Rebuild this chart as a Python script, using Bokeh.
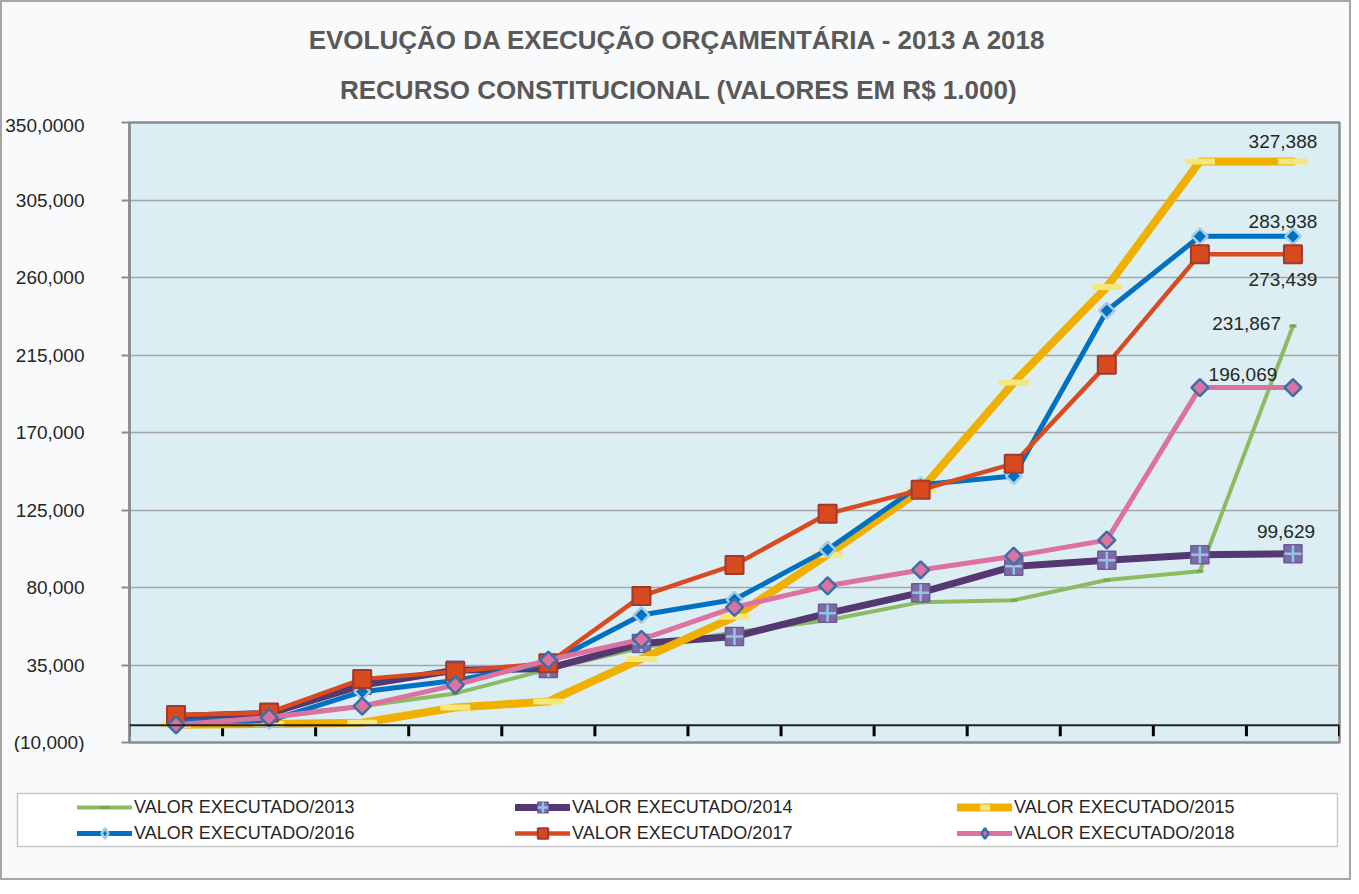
import math
from bokeh.plotting import figure
from bokeh.layouts import column
from bokeh.models import Range1d, FixedTicker, Span, Label, Legend, LegendItem
from bokeh.embed import file_html
from bokeh.resources import INLINE

# ---------------- data ----------------
pontos = list(range(1, 14))  # 13 unlabeled periods

valores_2013 = [3000, 5500, 11000, 18500, 32500, 45000, 54000, 61000, 71500, 72600, 84400, 89400, 231867]
valores_2014 = [5100, 6900, 23300, 32000, 33000, 47500, 51500, 65000, 77000, 92300, 95800, 99000, 99629]
valores_2015 = [300, 800, 1500, 10300, 13800, 38500, 63000, 99000, 136500, 199000, 254500, 327388, 327388]
valores_2016 = [2500, 2500, 19500, 26000, 36000, 64000, 73000, 102000, 139600, 144700, 240700, 283938, 283938]
valores_2017 = [5900, 7400, 26800, 31300, 36000, 75000, 93100, 122800, 136700, 151900, 209400, 273439, 273439]
valores_2018 = [300, 4500, 11100, 23300, 37900, 49900, 68500, 81000, 90200, 98200, 107500, 196069, 196069]

series_nomes = ["VALOR EXECUTADO/2013", "VALOR EXECUTADO/2014", "VALOR EXECUTADO/2015",
                "VALOR EXECUTADO/2016", "VALOR EXECUTADO/2017", "VALOR EXECUTADO/2018"]

y_ticks = [-10000, 35000, 80000, 125000, 170000, 215000, 260000, 305000, 350000]
y_tick_labels = ["(10,000)", "35,000", "80,000", "125,000", "170,000", "215,000",
                 "260,000", "305,000", "350,0000"]

titulo_1 = "EVOLUÇÃO DA EXECUÇÃO ORÇAMENTÁRIA - 2013 A 2018"
titulo_2 = "RECURSO CONSTITUCIONAL (VALORES EM R$ 1.000)"

# ---------------- styles ----------------
FONT = "Liberation Sans"
BG = "#f9fafc"
W = 1347
H_TITLE, H_MAIN, H_LEG = 112, 638, 126


def no_align(fig):
    if hasattr(fig, "frame_align"):
        fig.frame_align = False


def draw_series(fig, for_legend=False):
    """Draws the six series on fig; returns renderer groups in series order."""
    if for_legend:
        dia = dict(marker="diamond", size=14)
    else:
        dia = dict(marker="square", size=11, angle=math.pi / 4)
    dia2 = dict(dia)
    if not for_legend:
        dia2["size"] = 12
    grupos = []
    # 2013
    a = fig.line(pontos, valores_2013, line_color="#8dbb62", line_width=4, line_join="round", line_cap="round")
    b = fig.scatter(pontos, valores_2013, marker="dash", size=7, line_color="#79a850", line_width=3)
    grupos.append([a, b])
    # 2014
    a = fig.line(pontos, valores_2014, line_color="#553772", line_width=7, line_join="round", line_cap="round")
    b = fig.scatter(pontos, valores_2014, marker="square", size=18, fill_color="#7e6ba6",
                    line_color="#6c5a96", line_width=1.5)
    c = fig.scatter(pontos, valores_2014, marker="cross", size=17, line_color="#93c3e6", line_width=2.5)
    grupos.append([a, b, c])
    # 2015
    a = fig.line(pontos, valores_2015, line_color="#f0b000", line_width=8, line_join="round", line_cap="round")
    b = fig.scatter(pontos, valores_2015, marker="dash", size=30, line_color="#f3e77e", line_width=6)
    grupos.append([a, b])
    # 2016
    a = fig.line(pontos, valores_2016, line_color="#0070c0", line_width=5, line_join="round", line_cap="round")
    b = fig.scatter(pontos, valores_2016, fill_color="#0070c0", line_color="#a8cbe4", line_width=2.5, **dia)
    grupos.append([a, b])
    # 2017
    a = fig.line(pontos, valores_2017, line_color="#d84a1f", line_width=4.5, line_join="round", line_cap="round")
    b = fig.scatter(pontos, valores_2017, marker="square", size=18, fill_color="#d64a1d",
                    line_color="#a0392f", line_width=2)
    grupos.append([a, b])
    # 2018
    a = fig.line(pontos, valores_2018, line_color="#dd72a0", line_width=5, line_join="round", line_cap="round")
    b = fig.scatter(pontos, valores_2018, fill_color="#dd72a0", line_color="#3c6ea8", line_width=2.5, **dia2)
    grupos.append([a, b])
    return grupos


# ---------------- title strip ----------------
pt = figure(width=W, height=H_TITLE, output_backend="svg", toolbar_location=None,
            x_axis_type=None, y_axis_type=None, x_range=Range1d(0, 1), y_range=Range1d(0, 1),
            min_border=0, background_fill_color=BG, border_fill_color=BG)
no_align(pt)
pt.outline_line_color = None
pt.grid.visible = False
for txt, yy in ((titulo_1, 75), (titulo_2, 25)):
    pt.add_layout(Label(x=676, y=yy, x_units="screen", y_units="screen", text=txt,
                        text_align="center", text_baseline="middle", text_font=FONT,
                        text_font_style="bold", text_font_size="26px", text_color="#595959"))

# ---------------- main chart ----------------
p = figure(width=W, height=H_MAIN, x_range=Range1d(0.5, 13.5), y_range=Range1d(-10000, 350000),
           output_backend="svg", toolbar_location=None, x_axis_type=None,
           min_border_left=125, min_border_right=10, min_border_top=8, min_border_bottom=10,
           background_fill_color="#daeef3", border_fill_color=BG)
no_align(p)
p.outline_line_color = "#8c8c8c"
p.outline_line_width = 2.5

yax = p.yaxis[0]
yax.ticker = FixedTicker(ticks=y_ticks)
yax.major_label_overrides = dict(zip(y_ticks, y_tick_labels))
yax.axis_line_color = "#8c8c8c"
yax.axis_line_width = 2.5
yax.major_tick_line_color = "#8c8c8c"
yax.major_tick_line_width = 2
yax.major_tick_out = 8
yax.major_tick_in = 0
yax.minor_tick_out = 0
yax.minor_tick_in = 0
yax.major_label_standoff = 37
yax.major_label_text_font = FONT
yax.major_label_text_font_size = "19px"
yax.major_label_text_color = "#262626"

p.ygrid.ticker = FixedTicker(ticks=y_ticks)
p.ygrid.grid_line_color = "#a6a6a6"
p.ygrid.grid_line_width = 1.5

# zero line with category separators (x axis crossing at 0)
p.add_layout(Span(location=0, dimension="width", line_color="#222222", line_width=2))
limites = [i + 0.5 for i in range(0, len(pontos) + 1)]
p.ray(x=limites, y=[0] * len(limites), length=11, length_units="screen", angle=-math.pi / 2,
      line_color="black", line_width=3)

draw_series(p)

finais = [valores_2013[-1], valores_2014[-1], valores_2015[-1],
          valores_2016[-1], valores_2017[-1], valores_2018[-1]]
rotulo_estilo = [(-12, 2, "right"), (-7, 22, "center"), (-10, 20, "center"),
                 (-10, 15, "center"), (-10, -25, "center"), (-50, 13, "center")]
for v, (dx, dy, al) in zip(finais, rotulo_estilo):
    p.add_layout(Label(x=pontos[-1], y=v, text=f"{v:,}", x_offset=dx, y_offset=dy,
                       text_align=al, text_baseline="middle", text_font=FONT,
                       text_font_size="19px", text_color="#262626"))

# ---------------- legend strip ----------------
pl = figure(width=W, height=H_LEG, output_backend="svg", toolbar_location=None,
            x_axis_type=None, y_axis_type=None, x_range=Range1d(-100, -99), y_range=Range1d(-100, -99),
            min_border_left=15, min_border_right=12, min_border_top=41, min_border_bottom=32,
            background_fill_color="white", border_fill_color=BG)
no_align(pl)
pl.outline_line_color = "#c8c8c8"
pl.outline_line_width = 1.5
pl.grid.visible = False
grupos_leg = draw_series(pl, for_legend=True)
items = [LegendItem(label=n, renderers=g) for n, g in zip(series_nomes, grupos_leg)]

col_x = [60, 498, 940]
for c in range(3):
    lg = Legend(items=[items[c], items[c + 3]], location=(col_x[c], 0),
                orientation="vertical", padding=0, spacing=0, margin=0,
                glyph_width=55, glyph_height=26, label_standoff=2,
                label_text_font=FONT, label_text_font_size="18px", label_text_color="#262626",
                border_line_alpha=0, background_fill_alpha=0)
    pl.add_layout(lg)

layout = column(pt, p, pl, spacing=0)
layout.styles = {"border": "2px solid #a6a6a6", "background-color": BG}

open("out.html", "w").write(file_html(layout, INLINE))
